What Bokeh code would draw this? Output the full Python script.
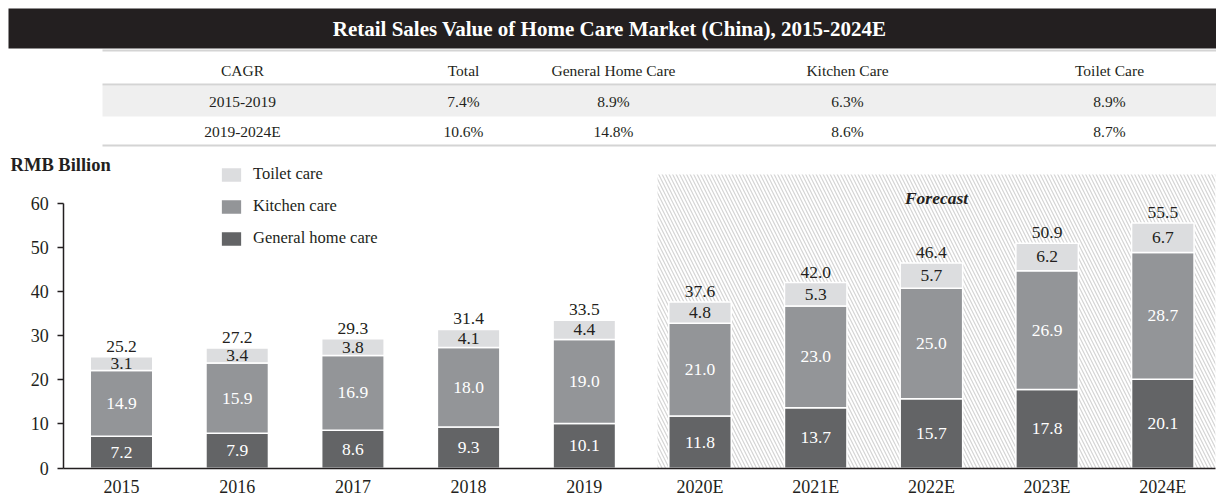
import numpy as np
from bokeh.plotting import figure
from bokeh.models import (ColumnDataSource, Range1d, LabelSet, Label, Legend,
                          LegendItem, FixedTicker, LinearAxis)
from bokeh.layouts import column
from bokeh.core.properties import value
from bokeh.embed import file_html
from bokeh.resources import INLINE

# ---------------- data ----------------
title_text = "Retail Sales Value of Home Care Market (China), 2015-2024E"
table_header = ["CAGR", "Total", "General Home Care", "Kitchen Care", "Toilet Care"]
periods = ["2015-2019", "2019-2024E"]
cagr_total = ["7.4%", "10.6%"]
cagr_general = ["8.9%", "14.8%"]
cagr_kitchen = ["6.3%", "8.6%"]
cagr_toilet = ["8.9%", "8.7%"]

years = ["2015", "2016", "2017", "2018", "2019", "2020E", "2021E", "2022E", "2023E", "2024E"]
general = [7.2, 7.9, 8.6, 9.3, 10.1, 11.8, 13.7, 15.7, 17.8, 20.1]
kitchen = [14.9, 15.9, 16.9, 18.0, 19.0, 21.0, 23.0, 25.0, 26.9, 28.7]
toilet = [3.1, 3.4, 3.8, 4.1, 4.4, 4.8, 5.3, 5.7, 6.2, 6.7]
total = [25.2, 27.2, 29.3, 31.4, 33.5, 37.6, 42.0, 46.4, 50.9, 55.5]
first_forecast = "2020E"

# ---------------- styles ----------------
FONT = "Liberation Serif"
C_GEN = "#636466"
C_KIT = "#939598"
C_TOI = "#dcdddf"
C_DARK = "#231f20"

# ---------------- header (title + CAGR table) ----------------
W, HH = 1216, 150
h = figure(width=W, height=HH, x_range=Range1d(0, W), y_range=Range1d(HH, 0),
           output_backend="svg", toolbar_location=None, min_border=0, title=None,
           x_axis_type=None, y_axis_type=None, outline_line_color=None)
h.grid.visible = False

h.quad(left=8, right=W, top=8, bottom=48, fill_color=C_DARK, line_color=None)
h.text(x=[609], y=[28], text=[title_text], text_font=value(FONT),
       text_font_style="bold", text_font_size="21px", text_color="white",
       text_align="center", text_baseline="middle")

tbl_left = 102
col_x = [242, 463, 613, 847, 1109]
row_y = [70, 101, 131]

h.quad(left=tbl_left, right=W, top=85, bottom=116, fill_color="#efefef", line_color=None)
for yy in (50, 84, 145):
    h.segment(x0=tbl_left, x1=W, y0=yy, y1=yy, line_color="#d4d4d4", line_width=2)

h.text(x=col_x, y=[row_y[0]] * len(col_x), text=table_header, text_font=value(FONT),
       text_font_size="15.5px", text_color=C_DARK, text_align="center",
       text_baseline="middle")
for i, per in enumerate(periods):
    vals = [per, cagr_total[i], cagr_general[i], cagr_kitchen[i], cagr_toilet[i]]
    h.text(x=col_x, y=[row_y[i + 1]] * len(col_x), text=vals, text_font=value(FONT),
           text_font_size="15.5px", text_color=C_DARK, text_align="center",
           text_baseline="middle")

# ---------------- chart ----------------
x = np.arange(len(years))
g = np.array(general)
k = np.array(kitchen)
t = np.array(toilet)
src = ColumnDataSource(dict(
    x=x, general=g, kitchen=k, toilet=t, total=total,
    g_mid=g / 2, k_mid=g + k / 2, t_mid=g + k + t / 2,
    g_txt=[f"{v:.1f}" for v in g], k_txt=[f"{v:.1f}" for v in k],
    t_txt=[f"{v:.1f}" for v in t], tot_txt=[f"{v:.1f}" for v in total],
))

X0, X1 = -1.046, 9.464     # visible x-extent (frame = whole canvas)
Y0, Y1 = -6.63, 71.88
p = figure(width=W, height=347, x_range=Range1d(X0, X1), y_range=Range1d(Y0, Y1),
           output_backend="svg", toolbar_location=None, min_border=0, title=None,
           x_axis_type=None, y_axis_type=None, outline_line_color=None)
p.grid.visible = False

# forecast hatched zone
fi = years.index(first_forecast)
p.quad(left=fi - 0.367, right=X1 - 0.01, bottom=0, top=66.45, fill_color="white",
       line_color=None, hatch_pattern="\\", hatch_color="#d4d4d4", hatch_scale=7,
       hatch_weight=1.2, level="underlay")

rs = p.vbar_stack(["general", "kitchen", "toilet"], x="x", width=0.54, source=src,
                  color=[C_GEN, C_KIT, C_TOI], line_color="white", line_width=1.5)

lab_kw = dict(source=src, text_font=value(FONT), text_font_size="17.5px",
              text_align="center", text_baseline="middle")
p.add_layout(LabelSet(x="x", y="g_mid", text="g_txt", text_color="white", **lab_kw))
p.add_layout(LabelSet(x="x", y="k_mid", text="k_txt", text_color="white", **lab_kw))
p.add_layout(LabelSet(x="x", y="t_mid", text="t_txt", text_color=C_DARK,
                      background_fill_color=C_TOI, **lab_kw))
p.add_layout(LabelSet(x="x", y="total", text="tot_txt", text_color=C_DARK, y_offset=5,
                      source=src, text_font=value(FONT), text_font_size="17.5px",
                      text_align="center", text_baseline="bottom"))

p.add_layout(Label(x=fi + 2.044, y=61.2, text="Forecast", text_font=FONT,
                   text_font_style="bold italic", text_font_size="17.5px",
                   text_color=C_DARK, text_align="center", text_baseline="middle"))
p.add_layout(Label(x=-0.959, y=68.5, text="RMB Billion", text_font=FONT,
                   text_font_style="bold", text_font_size="18.5px",
                   text_color=C_DARK, text_align="left", text_baseline="middle"))

legend = Legend(items=[LegendItem(label="Toilet care", renderers=[rs[2]]),
                       LegendItem(label="Kitchen care", renderers=[rs[1]]),
                       LegendItem(label="General home care", renderers=[rs[0]])],
                location=(218, 249), orientation="vertical")
legend.glyph_width = 26
legend.glyph_height = 19
legend.label_height = 19
legend.spacing = 12
legend.padding = 0
legend.margin = 0
legend.border_line_color = None
legend.background_fill_alpha = 0
legend.label_text_font = FONT
legend.label_text_font_size = "16.5px"
legend.label_text_color = C_DARK
legend.label_standoff = 9
p.add_layout(legend)

xaxis = LinearAxis(fixed_location=0, bounds=(-0.5, X1 - 0.01))
xaxis.ticker = FixedTicker(ticks=list(x))
xaxis.major_label_overrides = {int(i): yr for i, yr in zip(x, years)}
xaxis.major_tick_out = 0
xaxis.major_tick_in = 0
xaxis.minor_tick_out = 0
xaxis.minor_tick_in = 0
xaxis.major_label_standoff = 9

yaxis = LinearAxis(fixed_location=-0.5, bounds=(0, 60))
yaxis.ticker = FixedTicker(ticks=list(range(0, 61, 10)))
yaxis.major_tick_out = 6
yaxis.major_tick_in = 0
yaxis.minor_tick_out = 0
yaxis.minor_tick_in = 0
yaxis.major_label_standoff = 9

for ax in (xaxis, yaxis):
    ax.axis_line_width = 1.5
    ax.axis_line_color = C_DARK
    ax.major_tick_line_color = C_DARK
    ax.major_tick_line_width = 1.5
    ax.major_label_text_font = FONT
    ax.major_label_text_font_size = "18px"
    ax.major_label_text_color = C_DARK
p.add_layout(xaxis, "below")
p.add_layout(yaxis, "left")

layout = column(h, p, spacing=0)
open("out.html", "w").write(file_html(layout, INLINE))
